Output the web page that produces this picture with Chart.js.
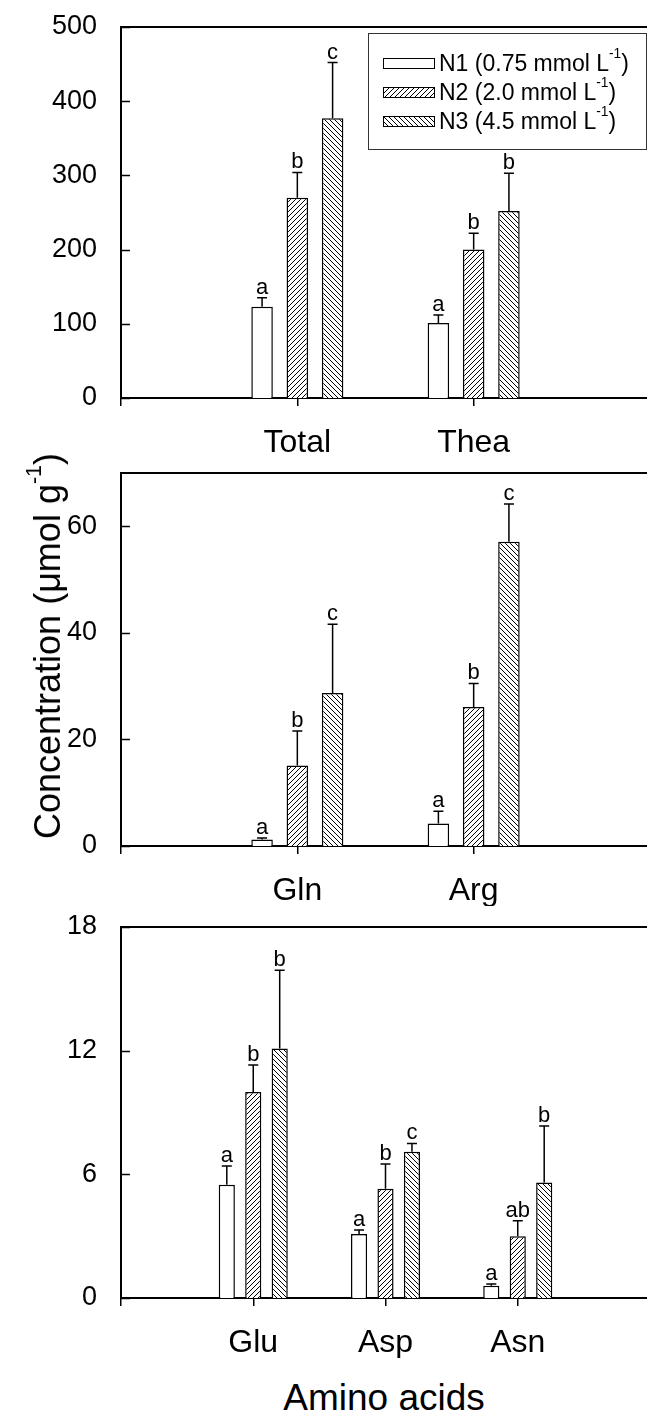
<!DOCTYPE html>
<html>
<head>
<meta charset="utf-8">
<script src="https://cdn.jsdelivr.net/npm/chart.js@4.4.1/dist/chart.umd.min.js"></script>
<style>
    html, body { margin: 0; padding: 0; background: #fff; }
    body { width: 647px; height: 1413px; overflow: hidden; position: relative; font-family: "Liberation Sans", Arial, sans-serif; color: #000; }
    .panel { position: absolute; left: 0; width: 660px; }
    #legend { position: absolute; left: 368px; top: 33px; width: 279px; height: 117px; box-sizing: border-box;
              border: 1px solid #333; background: #fff; padding: 14.5px 0 0 14px; font-size: 23px; }
    .row { height: 29px; display: flex; align-items: center; white-space: nowrap; }
    .row canvas { border: 1px solid #000; box-sizing: border-box; margin-right: 4px; }
    sup { font-size: 0.6em; line-height: 0; vertical-align: baseline; position: relative; top: -0.9em; }
    #ytitle { position: absolute; left: 48px; top: 646px; transform: translate(-50%, -50%) rotate(-90deg);
              white-space: nowrap; font-size: 36px; line-height: 1; }
    #xtitle { position: absolute; left: 384px; top: 1379px; transform: translateX(-50%); white-space: nowrap;
              font-size: 37px; line-height: 1; }
</style>
</head>
<body>

<div class="panel" style="top:0px; height:458px"><canvas id="c1" width="660" height="458"></canvas></div>
<div class="panel" style="top:458px; height:448px"><canvas id="c2" width="660" height="448"></canvas></div>
<div class="panel" style="top:906px; height:452px"><canvas id="c3" width="660" height="452"></canvas></div>

<div id="legend">
    <div class="row"><canvas id="sw1" width="50" height="9"></canvas><span>N1 (0.75 mmol L<sup>-1</sup>)</span></div>
    <div class="row"><canvas id="sw2" width="50" height="9"></canvas><span>N2 (2.0 mmol L<sup>-1</sup>)</span></div>
    <div class="row"><canvas id="sw3" width="50" height="9"></canvas><span>N3 (4.5 mmol L<sup>-1</sup>)</span></div>
</div>

<div id="ytitle">Concentration (μmol g<sup>-1</sup>)</div>
<div id="xtitle">Amino acids</div>

<script>
// --------------------------------------------------------------------
// DATA
// --------------------------------------------------------------------
// panel 1
const cats1 = ["", "Total", "Thea", ""];
const yTicks1 = [0, 100, 200, 300, 400, 500];
const n1Vals1 = [null, 123, 101, null];
const n1Err1 = [null, 12, 11, null];
const n2Vals1 = [null, 270, 200, null];
const n2Err1 = [null, 34, 22, null];
const n3Vals1 = [null, 377, 252, null];
const n3Err1 = [null, 75, 51, null];
const n1Sig1 = [null, "a", "a", null];
const n2Sig1 = [null, "b", "b", null];
const n3Sig1 = [null, "c", "b", null];

// panel 2
const cats2 = ["", "Gln", "Arg", ""];
const yTicks2 = [0, 20, 40, 60];
const n1Vals2 = [null, 1.2, 4.2, null];
const n1Err2 = [null, 0.3, 2.3, null];
const n2Vals2 = [null, 15.1, 26.1, null];
const n2Err2 = [null, 6.5, 4.4, null];
const n3Vals2 = [null, 28.7, 57.1, null];
const n3Err2 = [null, 12.9, 7.1, null];
const n1Sig2 = [null, "a", "a", null];
const n2Sig2 = [null, "b", "b", null];
const n3Sig2 = [null, "c", "c", null];

// panel 3
const cats3 = ["", "Glu", "Asp", "Asn", ""];
const yTicks3 = [0, 6, 12, 18];
const n1Vals3 = [null, 5.5, 3.1, 0.6, null];
const n1Err3 = [null, 0.9, 0.2, 0.08, null];
const n2Vals3 = [null, 10.0, 5.3, 3.0, null];
const n2Err3 = [null, 1.3, 1.2, 0.75, null];
const n3Vals3 = [null, 12.1, 7.1, 5.6, null];
const n3Err3 = [null, 3.8, 0.4, 2.75, null];
const n1Sig3 = [null, "a", "a", "a", null];
const n2Sig3 = [null, "b", "b", "ab", null];
const n3Sig3 = [null, "b", "c", "b", null];

const FONT = "'Liberation Sans', Arial, sans-serif";

// --------------------------------------------------------------------
// HATCH PATTERNS
// --------------------------------------------------------------------
function hatch(ctx, dir) {
    const s = 5;
    const c = document.createElement("canvas");
    c.width = c.height = s;
    const g = c.getContext("2d");
    g.fillStyle = "#fff";
    g.fillRect(0, 0, s, s);
    g.strokeStyle = "#000";
    g.lineWidth = 1;
    g.beginPath();
    if (dir > 0) {          // "/"
        g.moveTo(0, s); g.lineTo(s, 0);
        g.moveTo(-1, 1); g.lineTo(1, -1);
        g.moveTo(s - 1, s + 1); g.lineTo(s + 1, s - 1);
    } else {                // "\"
        g.moveTo(0, 0); g.lineTo(s, s);
        g.moveTo(-1, s - 1); g.lineTo(1, s + 1);
        g.moveTo(s - 1, -1); g.lineTo(s + 1, 1);
    }
    g.stroke();
    return ctx.createPattern(c, "repeat");
}

// --------------------------------------------------------------------
// FRAME, INWARD TICKS, ERROR BARS, LETTERS
// --------------------------------------------------------------------
const decor = {
    id: "decor",
    afterDatasetsDraw(chart) {
        const { ctx, chartArea: a } = chart;
        const y = chart.scales.y;
        ctx.save();
        ctx.strokeStyle = "#000";

        // top frame line
        ctx.lineWidth = 2;
        ctx.beginPath();
        ctx.moveTo(a.left - 1, a.top);
        ctx.lineTo(a.right + 20, a.top);
        ctx.stroke();

        // y ticks pointing inward
        ctx.lineWidth = 1.5;
        y.ticks.forEach(t => {
            const py = Math.round(y.getPixelForValue(t.value)) + 0.5;
            ctx.beginPath();
            ctx.moveTo(a.left, py);
            ctx.lineTo(a.left + 9, py);
            ctx.stroke();
        });

        // error bars (upper only) + significance letters
        ctx.font = "22px " + FONT;
        ctx.fillStyle = "#000";
        ctx.textAlign = "center";
        ctx.textBaseline = "alphabetic";
        chart.data.datasets.forEach((ds, i) => {
            const meta = chart.getDatasetMeta(i);
            meta.data.forEach((bar, j) => {
                const v = ds.data[j];
                if (v == null) return;
                const capY = y.getPixelForValue(v + ds.errors[j]);
                ctx.lineWidth = 1.5;
                ctx.beginPath();
                ctx.moveTo(bar.x, bar.y);
                ctx.lineTo(bar.x, capY);
                ctx.moveTo(bar.x - 5, capY);
                ctx.lineTo(bar.x + 5, capY);
                ctx.stroke();
                ctx.fillText(ds.letters[j], bar.x, capY - 4);
            });
        });
        ctx.restore();
    }
};

// --------------------------------------------------------------------
// PANEL BUILDER
// --------------------------------------------------------------------
function makePanel(id, cats, yMax, yTicks, padTop, series) {
    const ctx = document.getElementById(id).getContext("2d");
    const fills = ["#fff", hatch(ctx, 1), hatch(ctx, -1)];

    return new Chart(ctx, {
        type: "bar",
        data: {
            labels: cats,
            datasets: series.map((s, i) => ({
                label: "N" + (i + 1),
                data: s.vals,
                errors: s.errs,
                letters: s.sig,
                backgroundColor: fills[i],
                borderColor: "#000",
                borderWidth: 1.5,
                categoryPercentage: 0.6,
                barPercentage: 0.61
            }))
        },
        options: {
            responsive: false,
            maintainAspectRatio: false,
            animation: false,
            devicePixelRatio: 1,
            layout: { padding: { top: padTop, right: 10, left: 0, bottom: 0 } },
            plugins: { legend: { display: false }, tooltip: { enabled: false } },
            scales: {
                x: {
                    offset: false,
                    grid: { offset: false, drawOnChartArea: false, drawTicks: true, tickLength: 8, color: "#000", lineWidth: 1.5 },
                    border: { display: true, color: "#000", width: 2 },
                    ticks: { color: "#000", padding: 18, maxRotation: 0, autoSkip: false, font: { family: FONT, size: 32 } },
                    afterFit: s => { s.height = 60; s.paddingLeft = 0; s.paddingRight = 0; }
                },
                y: {
                    min: 0,
                    max: yMax,
                    grid: { display: false },
                    border: { display: true, color: "#000", width: 2 },
                    ticks: { color: "#000", padding: 16, font: { family: FONT, size: 27, lineHeight: 1 } },
                    afterBuildTicks: s => { s.ticks = yTicks.map(v => ({ value: v })); },
                    afterFit: s => { s.width = 121; s.paddingTop = 0; s.paddingBottom = 0; }
                }
            }
        },
        plugins: [decor]
    });
}

document.addEventListener("DOMContentLoaded", () => {
    makePanel("c1", cats1, 500, yTicks1, 27, [
        { vals: n1Vals1, errs: n1Err1, sig: n1Sig1 },
        { vals: n2Vals1, errs: n2Err1, sig: n2Sig1 },
        { vals: n3Vals1, errs: n3Err1, sig: n3Sig1 }
    ]);
    makePanel("c2", cats2, 70, yTicks2, 15, [
        { vals: n1Vals2, errs: n1Err2, sig: n1Sig2 },
        { vals: n2Vals2, errs: n2Err2, sig: n2Sig2 },
        { vals: n3Vals2, errs: n3Err2, sig: n3Sig2 }
    ]);
    makePanel("c3", cats3, 18, yTicks3, 21, [
        { vals: n1Vals3, errs: n1Err3, sig: n1Sig3 },
        { vals: n2Vals3, errs: n2Err3, sig: n2Sig3 },
        { vals: n3Vals3, errs: n3Err3, sig: n3Sig3 }
    ]);

    // legend swatches use the same fills as the bars
    ["sw1", "sw2", "sw3"].forEach((id, i) => {
        const c = document.getElementById(id);
        const g = c.getContext("2d");
        g.fillStyle = i === 0 ? "#fff" : hatch(g, i === 1 ? 1 : -1);
        g.fillRect(0, 0, c.width, c.height);
    });
});
</script>
</body>
</html>
